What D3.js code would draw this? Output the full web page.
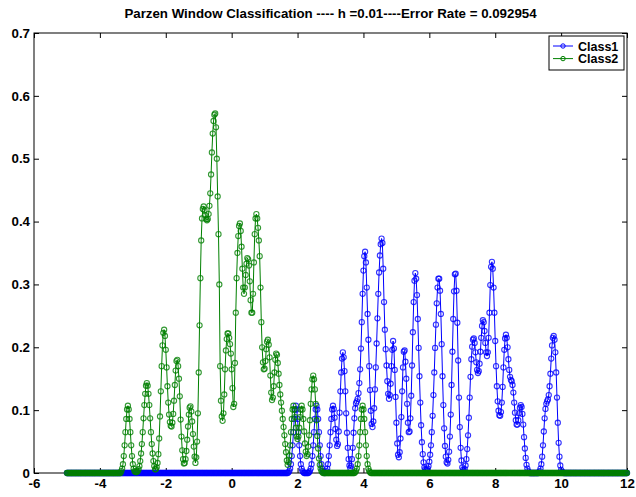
<!DOCTYPE html>
<html>
<head>
<meta charset="utf-8">
<script src="https://cdn.jsdelivr.net/npm/d3@7"></script>
<style>
  html, body { margin: 0; padding: 0; background: #ffffff; }
  svg { display: block; font-family: "Liberation Sans", Arial, Helvetica, sans-serif; font-weight: bold; }
</style>
</head>
<body>
<svg id="chart" width="636" height="497"></svg>
<script>
// Parzen window density estimates, sampled on a common grid:
// x = gridStart + i * gridStep, i = 0 … 680  (x from -5 to 12)
const gridStart = -5;
const gridStep = 0.025;

// Class1 density values on the grid
const class1Y = [
  // -5.000 … 1.700 (flat at zero)
  0,0,0,0,0, 0,0,0,0,0, 0,0,0,0,0, 0,0,0,0,0,
  0,0,0,0,0, 0,0,0,0,0, 0,0,0,0,0, 0,0,0,0,0,
  0,0,0,0,0, 0,0,0,0,0, 0,0,0,0,0, 0,0,0,0,0,
  0,0,0,0,0, 0,0,0,0,0, 0,0,0,0,0, 0,0,0,0,0,
  0,0,0,0,0, 0,0,0,0,0, 0,0,0,0,0, 0,0,0,0,0,
  0,0,0,0,0, 0,0,0,0,0, 0,0,0,0,0, 0,0,0,0,0,
  0,0,0,0,0, 0,0,0,0,0, 0,0,0,0,0, 0,0,0,0,0,
  0,0,0,0,0, 0,0,0,0,0, 0,0,0,0,0, 0,0,0,0,0,
  0,0,0,0,0, 0,0,0,0,0, 0,0,0,0,0, 0,0,0,0,0,
  0,0,0,0,0, 0,0,0,0,0, 0,0,0,0,0, 0,0,0,0,0,
  0,0,0,0,0, 0,0,0,0,0, 0,0,0,0,0, 0,0,0,0,0,
  0,0,0,0,0, 0,0,0,0,0, 0,0,0,0,0, 0,0,0,0,0,
  0,0,0,0,0, 0,0,0,0,0, 0,0,0,0,0, 0,0,0,0,0,
  0,0,0,0,0, 0,0,0,0,
  // 1.725 … 10.050
  0.001,0.003,0.007,0.014,0.027,0.044,0.065,0.086,0.101,0.107,
  0.101,0.086,0.065,0.044,0.027,0.014,0.007,0.003,0.001,0,
  0,0,0,0,0,0.001,0.003,0.007,0.014,0.027,
  0.044,0.065,0.086,0.101,0.107,0.101,0.086,0.065,0.044,0.027,
  0.014,0.007,0.003,0.001,0,0.001,0.003,0.007,0.014,0.027,
  0.044,0.065,0.086,0.101,0.107,0.102,0.088,0.070,0.053,0.043,
  0.046,0.066,0.096,0.130,0.160,0.182,0.192,0.184,0.162,0.130,
  0.095,0.064,0.040,0.022,0.012,0.008,0.011,0.022,0.040,0.064,
  0.087,0.103,0.111,0.114,0.118,0.127,0.143,0.165,0.198,0.240,
  0.285,0.322,0.345,0.352,0.335,0.295,0.253,0.212,0.170,0.132,
  0.099,0.078,0.073,0.082,0.103,0.133,0.168,0.206,0.246,0.285,
  0.319,0.346,0.364,0.373,0.366,0.325,0.272,0.228,0.197,0.171,
  0.146,0.126,0.118,0.124,0.142,0.170,0.196,0.210,0.198,0.164,
  0.121,0.080,0.047,0.029,0.025,0.033,0.055,0.089,0.130,0.168,
  0.193,0.195,0.177,0.150,0.110,0.080,0.065,0.066,0.087,0.123,
  0.171,0.224,0.272,0.306,0.318,0.309,0.283,0.245,0.199,0.154,
  0.112,0.076,0.049,0.030,0.017,0.009,0.006,0.004,0.005,0.007,
  0.011,0.018,0.029,0.044,0.065,0.091,0.124,0.160,0.199,0.236,
  0.270,0.295,0.309,0.309,0.290,0.253,0.205,0.154,0.108,0.071,
  0.043,0.026,0.017,0.015,0.021,0.034,0.058,0.093,0.140,0.193,
  0.245,0.289,0.316,0.317,0.290,0.239,0.179,0.120,0.073,0.040,
  0.020,0.009,0.005,0.003,0.006,0.012,0.022,0.038,0.060,0.088,
  0.120,0.153,0.181,0.201,0.212,0.214,0.207,0.192,0.176,0.164,
  0.159,0.162,0.174,0.193,0.215,0.234,0.243,0.240,0.226,0.207,
  0.192,0.186,0.192,0.215,0.255,0.299,0.328,0.336,0.325,0.295,
  0.255,0.210,0.170,0.138,0.114,0.099,0.092,0.091,0.097,0.112,
  0.137,0.168,0.196,0.214,0.220,0.215,0.200,0.181,0.164,0.153,
  0.148,0.146,0.140,0.128,0.112,0.096,0.084,0.077,0.077,0.084,
  0.095,0.104,0.108,0.105,0.094,0.077,0.057,0.039,0.024,0.013,
  0.007,0.003,0.001,0,0,0,0,0,0,0,
  0,0,0,0,0.001,0.003,0.007,0.014,0.026,0.044,
  0.066,0.087,0.102,0.110,0.114,0.117,0.124,0.138,0.158,0.182,
  0.203,0.215,0.218,0.212,0.192,0.160,0.120,0.080,0.048,0.026,
  0.012,0.005,0.002,0.001,
  // 10.075 … 12.000 (flat at zero)
  0,0,0,0,0, 0,0,0,0,0, 0,0,0,0,0, 0,0,0,0,0,
  0,0,0,0,0, 0,0,0,0,0, 0,0,0,0,0, 0,0,0,0,0,
  0,0,0,0,0, 0,0,0,0,0, 0,0,0,0,0, 0,0,0,0,0,
  0,0,0,0,0, 0,0,0,0,0, 0,0,0,0,0, 0,0,0
];

// Class2 density values on the grid
const class2Y = [
  // -5.000 … -3.375 (flat at zero)
  0,0,0,0,0, 0,0,0,0,0, 0,0,0,0,0, 0,0,0,0,0,
  0,0,0,0,0, 0,0,0,0,0, 0,0,0,0,0, 0,0,0,0,0,
  0,0,0,0,0, 0,0,0,0,0, 0,0,0,0,0, 0,0,0,0,0,
  0,0,0,0,0, 0,
  // -3.350 … 2.750
  0.003,0.007,0.014,0.027,0.044,0.065,0.086,0.101,0.107,0.101,
  0.086,0.065,0.044,0.027,0.014,0.007,0.003,0.002,0.001,0.002,
  0.003,0.006,0.011,0.019,0.031,0.046,0.065,0.087,0.108,0.126,
  0.139,0.143,0.139,0.126,0.108,0.087,0.065,0.046,0.031,0.019,
  0.011,0.006,0.006,0.009,0.016,0.030,0.055,0.090,0.130,0.170,
  0.203,0.223,0.228,0.218,0.196,0.168,0.138,0.112,0.093,0.081,
  0.075,0.074,0.080,0.094,0.115,0.140,0.163,0.178,0.180,0.170,
  0.150,0.122,0.085,0.058,0.036,0.022,0.015,0.016,0.022,0.035,
  0.053,0.074,0.093,0.104,0.106,0.098,0.082,0.062,0.042,0.026,
  0.016,0.025,0.050,0.095,0.160,0.235,0.310,0.370,0.405,0.420,
  0.424,0.418,0.410,0.404,0.402,0.404,0.412,0.425,0.445,0.475,
  0.510,0.540,0.560,0.570,0.572,0.550,0.500,0.440,0.380,0.300,
  0.170,0.115,0.090,0.083,0.095,0.125,0.165,0.195,0.213,0.222,
  0.222,0.215,0.205,0.190,0.165,0.135,0.105,0.110,0.175,0.255,
  0.310,0.350,0.377,0.393,0.397,0.385,0.360,0.325,0.295,0.285,
  0.295,0.315,0.333,0.342,0.340,0.330,0.305,0.275,0.255,0.255,
  0.285,0.335,0.380,0.405,0.412,0.405,0.390,0.370,0.345,0.295,
  0.240,0.200,0.176,0.165,0.166,0.178,0.197,0.209,0.212,0.204,
  0.184,0.155,0.128,0.116,0.120,0.138,0.160,0.180,0.190,0.188,
  0.175,0.158,0.140,0.125,0.112,0.099,0.086,0.073,0.060,0.046,
  0.033,0.020,0.013,0.017,0.028,0.044,0.065,0.086,0.101,0.107,
  0.101,0.089,0.072,0.058,0.054,0.058,0.072,0.089,0.101,0.107,
  0.101,0.086,0.066,0.047,0.034,0.027,0.030,0.042,0.060,0.084,
  0.110,0.133,0.149,0.155,0.149,0.133,0.110,0.084,0.059,0.039,
  0.023,0.013,0.007,0.003,0.001,
  // 2.775 … 3.725 (flat at zero)
  0,0,0,0,0, 0,0,0,0,0, 0,0,0,0,0, 0,0,0,0,0,
  0,0,0,0,0, 0,0,0,0,0, 0,0,0,0,0, 0,0,0,0,
  // 3.750 … 4.200
  0.001,0.003,0.007,0.014,0.027,0.044,0.065,0.086,0.101,0.107,
  0.101,0.086,0.065,0.044,0.027,0.014,0.007,0.003,0.001,
  // 4.225 … 12.000 (flat at zero)
  0,0,0,0,0, 0,0,0,0,0, 0,0,0,0,0, 0,0,0,0,0,
  0,0,0,0,0, 0,0,0,0,0, 0,0,0,0,0, 0,0,0,0,0,
  0,0,0,0,0, 0,0,0,0,0, 0,0,0,0,0, 0,0,0,0,0,
  0,0,0,0,0, 0,0,0,0,0, 0,0,0,0,0, 0,0,0,0,0,
  0,0,0,0,0, 0,0,0,0,0, 0,0,0,0,0, 0,0,0,0,0,
  0,0,0,0,0, 0,0,0,0,0, 0,0,0,0,0, 0,0,0,0,0,
  0,0,0,0,0, 0,0,0,0,0, 0,0,0,0,0, 0,0,0,0,0,
  0,0,0,0,0, 0,0,0,0,0, 0,0,0,0,0, 0,0,0,0,0,
  0,0,0,0,0, 0,0,0,0,0, 0,0,0,0,0, 0,0,0,0,0,
  0,0,0,0,0, 0,0,0,0,0, 0,0,0,0,0, 0,0,0,0,0,
  0,0,0,0,0, 0,0,0,0,0, 0,0,0,0,0, 0,0,0,0,0,
  0,0,0,0,0, 0,0,0,0,0, 0,0,0,0,0, 0,0,0,0,0,
  0,0,0,0,0, 0,0,0,0,0, 0,0,0,0,0, 0,0,0,0,0,
  0,0,0,0,0, 0,0,0,0,0, 0,0,0,0,0, 0,0,0,0,0,
  0,0,0,0,0, 0,0,0,0,0, 0,0,0,0,0, 0,0,0,0,0,
  0,0,0,0,0, 0,0,0,0,0, 0,0
];

const seriesNames = ["Class1", "Class2"];
const seriesColors = ["#0000ff", "#008000"];
const xTicks = [-6, -4, -2, 0, 2, 4, 6, 8, 10, 12];
const yTicks = [0, 0.1, 0.2, 0.3, 0.4, 0.5, 0.6, 0.7];
const xDomain = [-6, 12];
const yDomain = [0, 0.7];
const chartTitle = "Parzen Window Classification ---- h =0.01----Error Rate = 0.092954";

// ---- layout ----
const W = 636, H = 497;
const plot = { left: 34, right: 627, top: 33, bottom: 473 };
const fontSize = 13.3;
const markerR = 2.6;

const svg = d3.select("#chart");

const x = d3.scaleLinear().domain(xDomain).range([plot.left, plot.right]);
const y = d3.scaleLinear().domain(yDomain).range([plot.bottom, plot.top]);

// axes (ticks point inward on all four sides, labels on bottom/left only)
const fmtY = d => (d === 0 ? "0" : d3.format(".1f")(d));
const fmtX = d => String(d);

function styleAxis(g) {
  g.select(".domain").remove();
  g.selectAll(".tick line").attr("stroke", "#000").attr("stroke-width", 1);
  g.selectAll(".tick text")
    .attr("fill", "#000")
    .style("font-size", fontSize + "px")
    .style("font-weight", "bold")
    .style("font-family", '"Liberation Sans", Arial, Helvetica, sans-serif');
}

svg.append("g")
  .attr("transform", `translate(0,${plot.bottom})`)
  .call(d3.axisBottom(x).tickValues(xTicks).tickFormat(fmtX).tickSize(-5).tickSizeOuter(0).tickPadding(6))
  .call(styleAxis);

svg.append("g")
  .attr("transform", `translate(0,${plot.top})`)
  .call(d3.axisTop(x).tickValues(xTicks).tickFormat("").tickSize(-5).tickSizeOuter(0))
  .call(styleAxis);

svg.append("g")
  .attr("transform", `translate(${plot.left},0)`)
  .call(d3.axisLeft(y).tickValues(yTicks).tickFormat(fmtY).tickSize(-5).tickSizeOuter(0).tickPadding(4))
  .call(styleAxis);

svg.append("g")
  .attr("transform", `translate(${plot.right},0)`)
  .call(d3.axisRight(y).tickValues(yTicks).tickFormat("").tickSize(-5).tickSizeOuter(0))
  .call(styleAxis);

// axes box
svg.append("rect")
  .attr("x", plot.left).attr("y", plot.top)
  .attr("width", plot.right - plot.left).attr("height", plot.bottom - plot.top)
  .attr("fill", "none").attr("stroke", "#000").attr("stroke-width", 1);

// ---- density curves with circle markers ----
const series = [class1Y, class2Y].map((ys, s) => ({
  name: seriesNames[s],
  color: seriesColors[s],
  points: ys.map((v, i) => ({ x: gridStart + i * gridStep, y: v }))
}));

const line = d3.line().x(d => x(d.x)).y(d => y(d.y));

const seriesG = svg.append("g").selectAll("g")
  .data(series)
  .join("g");

seriesG.append("path")
  .attr("d", d => line(d.points))
  .attr("fill", "none")
  .attr("stroke", d => d.color)
  .attr("stroke-width", 1);

seriesG.each(function (d) {
  d3.select(this).append("g")
    .selectAll("circle")
    .data(d.points)
    .join("circle")
    .attr("cx", p => x(p.x))
    .attr("cy", p => y(p.y))
    .attr("r", markerR)
    .attr("fill", "none")
    .attr("stroke", d.color)
    .attr("stroke-opacity", 0.8)
    .attr("stroke-width", 1.1);
});

// ---- title ----
svg.append("text")
  .attr("x", (plot.left + plot.right) / 2)
  .attr("y", 18)
  .attr("text-anchor", "middle")
  .style("font-size", fontSize + "px")
  .style("font-weight", "bold")
  .text(chartTitle);

// ---- legend ----
const legend = { x: 549, y: 36, w: 75, h: 34, rowH: 12.6 };
const lg = svg.append("g");
lg.append("rect")
  .attr("x", legend.x).attr("y", legend.y)
  .attr("width", legend.w).attr("height", legend.h)
  .attr("fill", "#fff").attr("stroke", "#000").attr("stroke-width", 1);

const rows = lg.selectAll("g.row")
  .data(series)
  .join("g")
  .attr("class", "row")
  .attr("transform", (d, i) => `translate(${legend.x},${legend.y + 10 + i * legend.rowH})`);

rows.append("line")
  .attr("x1", 4).attr("x2", 24).attr("y1", 0).attr("y2", 0)
  .attr("stroke", d => d.color).attr("stroke-width", 1);
rows.append("circle")
  .attr("cx", 14).attr("cy", 0).attr("r", 2.2)
  .attr("fill", "none").attr("stroke", d => d.color).attr("stroke-width", 1);
rows.append("text")
  .attr("x", 29).attr("y", 0).attr("dy", "0.36em")
  .style("font-size", "12.5px")
  .style("font-weight", "bold")
  .text(d => d.name);
</script>
</body>
</html>
